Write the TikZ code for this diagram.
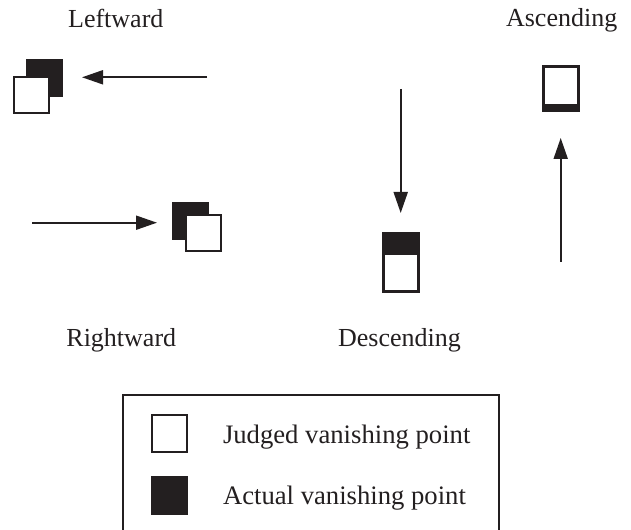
\documentclass[tikz,border=0pt]{standalone}
\usepackage{fontspec}
\setmainfont{Liberation Serif}
\usetikzlibrary{arrows.meta, positioning, calc}
\definecolor{ink}{RGB}{35,31,32}

\begin{document}
\begin{tikzpicture}[x=0.75pt, y=-0.75pt,
    judged/.style={draw=ink, fill=white, line width=1.5pt, inner sep=0pt, minimum width=26.25pt, minimum height=27pt},
    actual/.style={draw=ink, fill=ink, line width=1.5pt, inner sep=0pt, minimum width=26.25pt, minimum height=27pt},
    motion/.style={draw=ink, line width=1.5pt, -{Triangle[length=15.75pt, width=10.5pt]}},
    lbl/.style={anchor=base, text=ink, font=\fontsize{19.5}{22}\selectfont},
    key/.style={anchor=base west, text=ink, font=\fontsize{20}{24}\selectfont}]
\useasboundingbox (0,0) rectangle (631,530);

% Leftward
\node[lbl] (leftlbl) at (115.8,27.3) {Leftward};
\node[actual] (leftact) at (44.5,78) {};
\node[judged] (leftjud) at (31.5,95) {};
\coordinate (leftfrom) at (207,77.3);
\coordinate (leftto) at (82,77.3);
\draw[motion] (leftfrom) -- (leftto);

% Rightward
\node[lbl] (rightlbl) at (121.3,346.7) {Rightward};
\node[actual] (rightact) at (190.5,221) {};
\node[judged] (rightjud) at (203.5,233.5) {};
\coordinate (rightfrom) at (32,222.7);
\coordinate (rightto) at (157,222.7);
\draw[motion] (rightfrom) -- (rightto);

% Descending
\node[lbl] (desclbl) at (399.5,346.7) {Descending};
\node[judged, minimum width=25.5pt, minimum height=42.75pt] (descjud) at (401,262.5) {};
\fill[ink] (descjud.north west) rectangle ($(descjud.north east)+(0,22)$);
\draw[ink, line width=1.5pt] (descjud.north west) rectangle (descjud.south east);
\coordinate (descfrom) at (400.7,89);
\coordinate (descto) at (400.7,213);
\draw[motion] (descfrom) -- (descto);

% Ascending
\node[lbl] (asclbl) at (561.7,26.7) {Ascending};
\node[judged, minimum width=25.5pt, minimum height=32.25pt] (ascjud) at (561,88.5) {};
\fill[ink] ($(ascjud.south west)+(0,-7)$) rectangle (ascjud.south east);
\draw[ink, line width=1.5pt] (ascjud.north west) rectangle (ascjud.south east);
\coordinate (ascfrom) at (560.7,262);
\coordinate (ascto) at (560.7,138);
\draw[motion] (ascfrom) -- (ascto);

% Legend
\draw[ink, line width=1.1pt] (123,395) rectangle (499,540);
\node[judged, minimum height=27.75pt] (keyjud) at (169,433.5) {};
\node[actual, minimum height=27.75pt] (keyact) at (169,495.5) {};
\node[key] (keyjudlbl) at (218.3,443) {Judged vanishing point};
\node[key] (keyactlbl) at (218.3,504) {Actual vanishing point};
\end{tikzpicture}
\end{document}
